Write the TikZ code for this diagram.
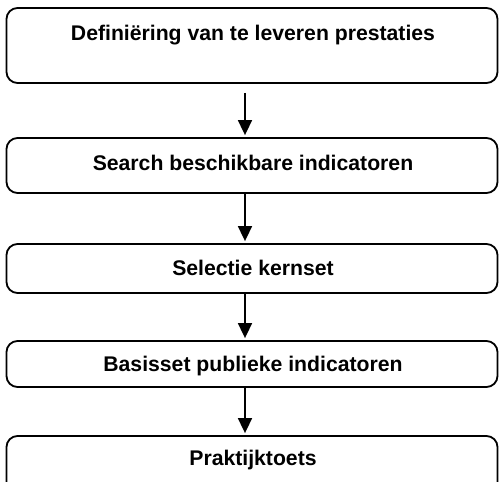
\documentclass[tikz,border=0pt]{standalone}
\usepackage{fontspec}
\setmainfont{Liberation Sans}
\usetikzlibrary{arrows.meta}
\begin{document}
\begin{tikzpicture}[x=1pt,y=-1pt,
  stepbox/.style={draw=black, line width=1.8pt, rounded corners=11pt, minimum width=491pt, inner sep=0pt},
  lbl/.style={font=\fontsize{21.2}{25}\selectfont\bfseries, inner sep=0pt},
  flow/.style={line width=1.7pt, -{Triangle[width=14pt,length=15pt]}, shorten >=2pt}]
\useasboundingbox (0,0) rectangle (499,482);
\node[stepbox, minimum height=75pt] (b1) at (252,45.5) {};
\node[stepbox, minimum height=55pt] (b2) at (252,165.5) {};
\node[stepbox, minimum height=49pt] (b3) at (252,268.5) {};
\node[stepbox, minimum height=46pt] (b4) at (252,364) {};
\node[stepbox, minimum height=64pt] (b5) at (252,468) {};
\node[lbl] (t1) at (253,35) {Definiëring van te leveren prestaties};
\node[lbl] (t2) at (253,163) {Search beschikbare indicatoren};
\node[lbl] (t3) at (253,268) {Selectie kernset};
\node[lbl] (t4) at (253,366) {Basisset publieke indicatoren};
\node[lbl] (t5) at (253,460) {Praktijktoets};
\draw[flow, shorten <=9pt] ([xshift=-7pt]b1.south) -- ([xshift=-7pt]b2.north);
\draw[flow] ([xshift=-7pt]b2.south) -- ([xshift=-7pt]b3.north);
\draw[flow] ([xshift=-7pt]b3.south) -- ([xshift=-7pt]b4.north);
\draw[flow] ([xshift=-7pt]b4.south) -- ([xshift=-7pt]b5.north);
\end{tikzpicture}
\end{document}
